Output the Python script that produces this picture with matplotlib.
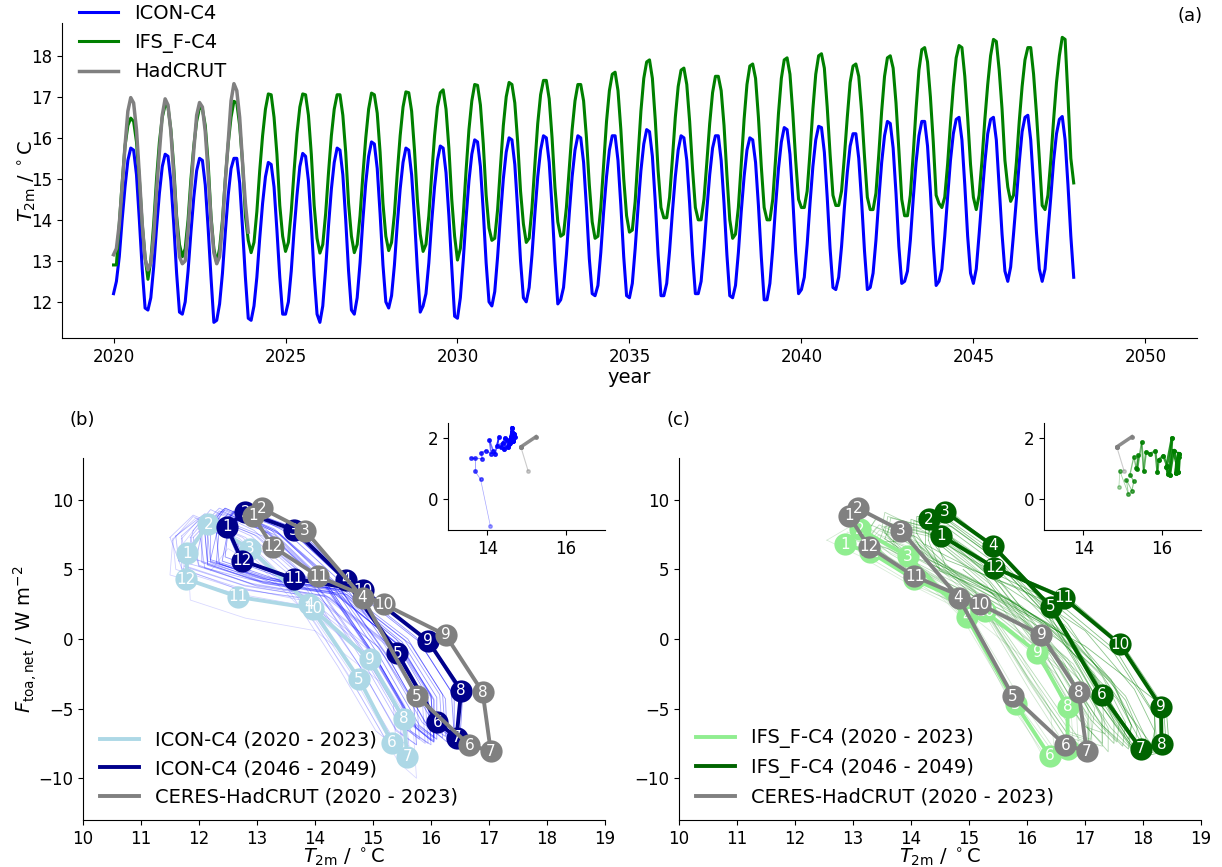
import numpy as np
import matplotlib
matplotlib.use("Agg")
import matplotlib.pyplot as plt

# ---------------- data ----------------
years = list(range(2020, 2048))
month_labels = [str(m) for m in range(1, 13)]

# monthly global-mean T2m (degC), one row per year, Jan..Dec
icon_t = [
    [12.2, 12.5, 13.1, 14.0, 14.8, 15.45, 15.75, 15.7, 15.1, 14.0, 12.8, 11.85],
    [11.8, 12.1, 12.85, 13.8, 14.65, 15.3, 15.6, 15.55, 14.95, 13.9, 12.7, 11.75],
    [11.7, 12.0, 12.75, 13.7, 14.55, 15.2, 15.5, 15.45, 14.85, 13.8, 12.6, 11.5],
    [11.55, 11.95, 12.7, 13.7, 14.6, 15.25, 15.5, 15.5, 14.9, 13.8, 12.6, 11.6],
    [11.55, 11.9, 12.6, 13.55, 14.4, 15.05, 15.4, 15.35, 14.8, 13.75, 12.6, 11.7],
    [11.7, 12.0, 12.75, 13.75, 14.6, 15.3, 15.62, 15.55, 14.95, 13.9, 12.65, 11.7],
    [11.5, 11.9, 12.8, 13.85, 14.75, 15.4, 15.75, 15.7, 15.1, 14.0, 12.75, 11.8],
    [11.7, 12.1, 12.95, 14.0, 14.9, 15.55, 15.9, 15.85, 15.25, 14.15, 12.9, 12.0],
    [11.85, 12.15, 12.9, 13.9, 14.75, 15.4, 15.75, 15.7, 15.1, 14.05, 12.8, 11.75],
    [11.9, 12.2, 12.95, 13.95, 14.8, 15.45, 15.8, 15.75, 15.15, 14.1, 12.85, 11.65],
    [11.6, 12.1, 13.0, 14.05, 14.95, 15.6, 15.95, 15.9, 15.3, 14.2, 12.95, 12.0],
    [11.9, 12.25, 13.1, 14.1, 15.0, 15.65, 16.0, 15.95, 15.35, 14.25, 13.0, 12.1],
    [12.0, 12.35, 13.15, 14.15, 15.05, 15.7, 16.05, 16.0, 15.4, 14.3, 13.0, 11.95],
    [12.05, 12.35, 13.15, 14.15, 15.05, 15.7, 16.05, 16.0, 15.4, 14.3, 13.05, 12.2],
    [12.15, 12.4, 13.2, 14.2, 15.05, 15.7, 16.05, 16.05, 15.45, 14.35, 13.1, 12.15],
    [12.1, 12.45, 13.3, 14.3, 15.2, 15.85, 16.2, 16.15, 15.55, 14.45, 13.15, 12.15],
    [12.15, 12.45, 13.25, 14.2, 15.05, 15.7, 16.05, 16.0, 15.45, 14.4, 13.15, 12.2],
    [12.2, 12.5, 13.3, 14.25, 15.1, 15.75, 16.05, 16.05, 15.45, 14.4, 13.15, 12.15],
    [12.1, 12.4, 13.2, 14.2, 15.05, 15.7, 16.0, 15.95, 15.4, 14.35, 13.1, 12.05],
    [12.05, 12.45, 13.3, 14.35, 15.25, 15.9, 16.25, 16.2, 15.6, 14.5, 13.2, 12.2],
    [12.3, 12.6, 13.4, 14.4, 15.3, 15.95, 16.28, 16.25, 15.65, 14.55, 13.3, 12.35],
    [12.3, 12.6, 13.35, 14.3, 15.15, 15.8, 16.1, 16.1, 15.5, 14.45, 13.25, 12.3],
    [12.35, 12.7, 13.5, 14.5, 15.4, 16.05, 16.4, 16.35, 15.75, 14.65, 13.35, 12.45],
    [12.5, 12.75, 13.5, 14.5, 15.4, 16.05, 16.4, 16.4, 15.8, 14.7, 13.4, 12.4],
    [12.5, 12.8, 13.6, 14.55, 15.45, 16.1, 16.45, 16.5, 15.95, 14.85, 13.6, 12.7],
    [12.45, 12.8, 13.65, 14.55, 15.4, 16.1, 16.45, 16.5, 15.95, 14.8, 13.65, 12.75],
    [12.5, 12.85, 13.65, 14.5, 15.4, 16.15, 16.5, 16.55, 15.95, 14.85, 13.7, 12.8],
    [12.5, 12.8, 13.7, 14.55, 15.45, 16.1, 16.45, 16.52, 15.95, 14.85, 13.6, 12.6],
]
ifs_t = [
    [12.9, 12.9, 13.9, 14.9, 15.8, 16.3, 16.48, 16.4, 15.9, 15.0, 13.9, 13.1],
    [12.55, 13.0, 13.9, 15.0, 15.9, 16.5, 16.8, 16.75, 16.2, 15.3, 14.1, 13.4],
    [13.1, 13.3, 14.0, 15.0, 15.8, 16.4, 16.74, 16.7, 16.3, 15.4, 14.1, 13.3],
    [12.95, 13.3, 14.0, 15.0, 15.85, 16.5, 16.89, 16.85, 16.3, 15.4, 14.1, 13.5],
    [13.2, 13.45, 14.2, 15.2, 16.05, 16.7, 17.07, 17.05, 16.5, 15.6, 14.35, 13.6],
    [13.23, 13.45, 14.2, 15.2, 16.1, 16.75, 17.07, 17.05, 16.55, 15.6, 14.35, 13.55],
    [13.19, 13.4, 14.15, 15.15, 16.05, 16.7, 17.05, 17.05, 16.55, 15.65, 14.4, 13.6],
    [13.2, 13.4, 14.1, 15.1, 16.0, 16.7, 17.09, 17.05, 16.6, 15.65, 14.4, 13.6],
    [13.25, 13.45, 14.15, 15.15, 16.05, 16.75, 17.12, 17.1, 16.65, 15.7, 14.5, 13.65],
    [13.23, 13.4, 14.1, 15.1, 16.05, 16.75, 17.1, 17.17, 16.7, 15.75, 14.5, 13.6],
    [13.02, 13.3, 14.1, 15.2, 16.2, 16.9, 17.3, 17.28, 16.8, 15.85, 14.6, 13.8],
    [13.5, 13.55, 14.25, 15.3, 16.3, 17.0, 17.35, 17.3, 16.85, 15.9, 14.7, 13.9],
    [13.45, 13.55, 14.3, 15.35, 16.35, 17.05, 17.4, 17.4, 16.95, 16.0, 14.8, 13.95],
    [13.6, 13.65, 14.3, 15.25, 16.2, 16.9, 17.3, 17.3, 16.9, 16.0, 14.85, 13.95],
    [13.55, 13.6, 14.3, 15.35, 16.4, 17.15, 17.55, 17.6, 17.15, 16.2, 15.0, 14.1],
    [13.7, 13.75, 14.45, 15.55, 16.65, 17.45, 17.85, 17.9, 17.45, 16.45, 15.2, 14.3],
    [14.05, 14.05, 14.55, 15.5, 16.5, 17.25, 17.65, 17.7, 17.3, 16.4, 15.25, 14.3],
    [14.0, 14.0, 14.5, 15.4, 16.35, 17.1, 17.5, 17.5, 17.15, 16.3, 15.1, 14.0],
    [13.55, 13.65, 14.3, 15.35, 16.45, 17.3, 17.75, 17.8, 17.45, 16.5, 15.3, 14.3],
    [14.0, 14.0, 14.5, 15.5, 16.6, 17.45, 17.9, 17.95, 17.55, 16.6, 15.45, 14.5],
    [14.3, 14.3, 14.7, 15.65, 16.7, 17.55, 18.0, 18.05, 17.7, 16.75, 15.6, 14.6],
    [14.35, 14.35, 14.7, 15.55, 16.5, 17.35, 17.75, 17.8, 17.5, 16.65, 15.55, 14.55],
    [14.25, 14.25, 14.65, 15.6, 16.65, 17.5, 17.95, 18.0, 17.7, 16.85, 15.7, 14.5],
    [14.1, 14.1, 14.6, 15.6, 16.7, 17.65, 18.15, 18.2, 17.85, 17.0, 15.9, 14.6],
    [14.4, 14.3, 14.55, 15.35, 16.35, 17.25, 17.95, 18.25, 18.2, 17.5, 16.5, 15.35],
    [14.55, 14.25, 14.6, 15.45, 16.45, 17.3, 18.0, 18.4, 18.35, 17.65, 16.7, 15.45],
    [14.8, 14.45, 14.6, 15.4, 16.4, 17.25, 17.9, 18.2, 18.2, 17.55, 16.6, 15.5],
    [14.35, 14.25, 14.6, 15.45, 16.45, 17.35, 18.0, 18.45, 18.4, 17.0, 15.5, 14.9],
]
hadcrut_t = [
    [13.15, 13.3, 13.9, 14.8, 15.8, 16.65, 16.98, 16.85, 16.2, 15.1, 13.9, 13.05],
    [12.78, 12.95, 13.6, 14.7, 15.65, 16.55, 16.95, 16.8, 16.15, 15.1, 13.95, 13.1],
    [12.93, 13.0, 13.75, 14.75, 15.7, 16.55, 16.86, 16.75, 16.15, 15.15, 14.0, 13.2],
    [12.93, 13.1, 13.85, 14.95, 15.9, 16.9, 17.32, 17.15, 16.5, 15.4, 14.4, 13.7],
]

# monthly net TOA flux (W m-2), one row per year, Jan..Dec
icon_f = [
    [4.9, 6.5, 5.0, 1.2, -4.2, -8.9, -10.0, -6.9, -3.0, 0.6, 1.5, 2.8],
    [6.5, 8.0, 6.6, 2.7, -2.6, -7.4, -8.4, -5.4, -1.5, 2.2, 3.0, 4.3],
    [6.7, 8.3, 6.8, 3.0, -2.4, -7.1, -8.2, -5.1, -1.2, 2.4, 3.3, 4.6],
    [7.2, 8.7, 7.2, 3.4, -1.9, -6.7, -7.7, -4.7, -0.7, 2.9, 3.7, 5.0],
    [7.1, 8.8, 7.1, 3.5, -2.0, -6.6, -7.8, -4.6, -0.8, 2.8, 3.8, 5.0],
    [7.2, 8.6, 7.3, 3.3, -1.9, -6.8, -7.7, -4.8, -0.7, 2.9, 3.6, 5.1],
    [7.3, 8.9, 7.3, 3.6, -1.8, -6.5, -7.6, -4.5, -0.6, 3.0, 3.9, 5.2],
    [7.4, 8.9, 7.5, 3.6, -1.7, -6.4, -7.5, -4.4, -0.5, 3.1, 4.0, 5.2],
    [7.3, 8.8, 7.4, 3.6, -1.8, -6.6, -7.6, -4.6, -0.6, 3.0, 3.8, 5.2],
    [7.8, 9.3, 7.8, 4.0, -1.4, -6.1, -7.2, -4.1, -0.1, 3.4, 4.3, 5.6],
    [7.4, 9.0, 7.4, 3.7, -1.7, -6.5, -7.5, -4.4, -0.5, 3.1, 3.9, 5.3],
    [7.3, 8.8, 7.4, 3.5, -1.8, -6.6, -7.6, -4.5, -0.6, 3.0, 3.8, 5.1],
    [7.9, 9.4, 7.9, 4.1, -1.3, -6.0, -7.0, -4.0, 0.0, 3.6, 4.4, 5.7],
    [7.7, 9.2, 7.7, 3.9, -1.4, -6.2, -7.3, -4.2, -0.3, 3.4, 4.2, 5.5],
    [7.5, 9.0, 7.6, 3.7, -1.6, -6.3, -7.4, -4.3, -0.4, 3.2, 4.0, 5.4],
    [7.8, 9.4, 7.8, 4.1, -1.3, -6.0, -7.1, -4.0, -0.1, 3.5, 4.4, 5.6],
    [7.7, 9.3, 7.8, 4.0, -1.3, -6.1, -7.1, -4.1, -0.2, 3.5, 4.3, 5.6],
    [7.5, 9.0, 7.5, 3.7, -1.7, -6.4, -7.4, -4.4, -0.5, 3.2, 4.0, 5.3],
    [7.6, 9.2, 7.6, 3.8, -1.5, -6.2, -7.3, -4.2, -0.3, 3.3, 4.1, 5.5],
    [7.9, 9.4, 7.9, 4.1, -1.2, -6.0, -7.0, -4.0, 0.0, 3.5, 4.4, 5.7],
    [7.5, 9.1, 7.5, 3.8, -1.6, -6.3, -7.4, -4.3, -0.4, 3.2, 4.0, 5.4],
    [7.6, 9.2, 7.7, 3.9, -1.5, -6.2, -7.2, -4.2, -0.2, 3.4, 4.2, 5.5],
    [8.0, 9.5, 8.1, 4.2, -1.1, -5.8, -6.9, -3.8, 0.1, 3.7, 4.5, 5.9],
    [7.7, 9.3, 7.7, 3.9, -1.4, -6.1, -7.2, -4.1, -0.2, 3.4, 4.2, 5.6],
    [7.8, 8.9, 7.7, 4.1, -1.1, -6.0, -7.2, -3.9, -0.2, 3.4, 4.3, 5.6],
    [8.1, 9.2, 7.9, 4.3, -1.0, -5.9, -7.0, -3.6, -0.1, 3.6, 4.4, 5.7],
    [8.0, 9.0, 7.8, 4.2, -1.0, -6.1, -7.1, -3.8, -0.2, 3.4, 4.2, 5.6],
    [8.3, 9.3, 7.9, 4.4, -1.0, -5.9, -7.0, -3.5, -0.1, 3.6, 4.4, 5.7],
]
ifs_f = [
    [6.5, 7.7, 5.7, 1.4, -4.9, -8.6, -8.2, -5.1, -1.2, 1.8, 4.1, 6.0],
    [7.1, 8.2, 6.2, 1.9, -4.4, -8.1, -7.7, -4.6, -0.7, 2.3, 4.6, 6.5],
    [6.3, 7.4, 5.5, 1.1, -5.2, -8.9, -8.4, -5.4, -1.5, 1.5, 3.8, 5.8],
    [6.8, 7.9, 5.9, 1.6, -4.7, -8.4, -8.0, -4.9, -1.0, 2.0, 4.3, 6.2],
    [6.4, 7.5, 6.2, 2.3, -3.7, -7.9, -8.4, -6.1, -2.5, 0.8, 3.4, 5.4],
    [6.7, 7.8, 6.5, 2.6, -3.4, -7.6, -8.1, -5.8, -2.2, 1.1, 3.7, 5.7],
    [6.9, 8.0, 6.7, 2.8, -3.2, -7.3, -7.9, -5.6, -2.0, 1.4, 3.9, 5.9],
    [7.5, 8.6, 7.3, 3.4, -2.6, -6.8, -7.3, -5.0, -1.4, 1.9, 4.5, 6.5],
    [7.1, 8.2, 6.9, 3.0, -3.0, -7.1, -7.6, -5.4, -1.8, 1.6, 4.1, 6.1],
    [7.5, 8.7, 7.3, 3.5, -2.5, -6.7, -7.2, -5.0, -1.4, 2.0, 4.6, 6.5],
    [7.1, 8.2, 6.9, 3.0, -3.0, -7.2, -7.7, -5.4, -1.8, 1.5, 4.1, 6.1],
    [8.0, 9.1, 7.7, 3.9, -2.1, -6.3, -6.8, -4.6, -0.9, 2.4, 5.0, 7.0],
    [7.0, 8.1, 7.4, 4.0, -1.3, -6.4, -8.1, -6.4, -3.1, 0.7, 3.5, 5.5],
    [7.5, 8.7, 8.0, 4.6, -0.8, -5.8, -7.5, -5.8, -2.5, 1.2, 4.1, 6.1],
    [7.6, 8.8, 8.0, 4.7, -0.7, -5.7, -7.4, -5.7, -2.4, 1.3, 4.2, 6.2],
    [7.0, 8.1, 7.4, 4.0, -1.4, -6.4, -8.1, -6.4, -3.1, 0.6, 3.5, 5.5],
    [7.4, 8.5, 7.8, 4.4, -1.0, -6.0, -7.7, -6.0, -2.7, 1.0, 3.9, 5.9],
    [7.5, 8.6, 7.9, 4.5, -0.8, -5.8, -7.5, -5.9, -2.6, 1.2, 4.0, 6.0],
    [7.2, 8.3, 7.6, 4.2, -1.2, -6.2, -7.9, -6.2, -2.9, 0.8, 3.7, 5.7],
    [6.8, 8.0, 7.9, 5.0, 0.3, -5.5, -8.3, -7.3, -4.3, -0.2, 2.9, 5.0],
    [7.1, 8.2, 8.1, 5.2, 0.5, -5.3, -8.1, -7.1, -4.1, 0.0, 3.1, 5.2],
    [8.0, 9.2, 9.1, 6.2, 1.5, -4.4, -7.2, -6.2, -3.2, 1.0, 4.0, 6.1],
    [6.8, 8.0, 7.9, 5.0, 0.3, -5.6, -8.4, -7.4, -4.4, -0.3, 2.8, 4.9],
    [7.6, 8.8, 8.7, 5.8, 1.1, -4.8, -7.6, -6.6, -3.6, 0.6, 3.6, 5.7],
    [6.8, 8.0, 8.5, 6.1, 1.7, -4.6, -8.5, -8.2, -5.5, -1.0, 2.4, 4.5],
    [7.5, 8.6, 9.2, 6.7, 2.3, -4.0, -7.9, -7.5, -4.8, -0.4, 3.0, 5.2],
    [6.9, 8.1, 8.6, 6.1, 1.7, -4.6, -8.4, -8.1, -5.4, -0.9, 2.4, 4.6],
    [7.4, 8.5, 9.1, 6.6, 2.2, -4.1, -8.0, -7.6, -5.0, -0.5, 2.9, 5.0],
]

# mean seasonal cycles (Jan..Dec) shown with numbered markers
icon_early_t = [11.80, 12.16, 12.88, 13.90, 14.76, 15.33, 15.59, 15.53, 14.94, 13.96, 12.68, 11.78]
icon_early_f = [6.16, 8.26, 6.48, 2.50, -2.88, -7.45, -8.45, -5.74, -1.45, 2.19, 3.02, 4.31]
icon_late_t = [12.48, 12.80, 13.64, 14.53, 15.42, 16.11, 16.44, 16.52, 15.95, 14.83, 13.64, 12.74]
icon_late_f = [8.07, 9.10, 7.83, 4.26, -1.02, -5.98, -7.09, -3.71, -0.14, 3.50, 4.33, 5.64]
ifs_early_t = [12.86, 13.12, 13.95, 14.96, 15.81, 16.39, 16.70, 16.70, 16.18, 15.27, 14.05, 13.30]
ifs_early_f = [6.79, 7.90, 5.93, 1.60, -4.70, -8.40, -7.93, -4.88, -0.98, 2.00, 4.30, 6.24]
ifs_late_t = [14.52, 14.31, 14.59, 15.41, 16.41, 17.29, 17.96, 18.32, 18.31, 17.60, 16.63, 15.44]
ifs_late_f = [7.43, 8.62, 9.14, 6.71, 2.31, -4.00, -7.88, -7.57, -4.88, -0.38, 2.98, 5.12]
obs_t = [12.93, 13.08, 13.83, 14.82, 15.76, 16.66, 17.03, 16.89, 16.25, 15.19, 14.06, 13.27]
obs_f = [8.86, 9.40, 7.79, 2.98, -4.12, -7.62, -8.05, -3.81, 0.29, 2.50, 4.50, 6.64]

# annual means for the insets
icon_ann_t = [14.08, 13.83, 13.69, 13.69, 13.58, 13.87, 13.85, 13.96, 14.10, 14.05,
              14.15, 14.20, 14.30, 14.25, 14.40, 14.35, 14.45, 14.50, 14.42, 14.55,
              14.60, 14.52, 14.58, 14.62, 14.60, 14.64, 14.65, 14.68, 14.66, 14.70]
icon_ann_f = [-0.87, 0.66, 0.92, 1.36, 1.36, 1.33, 1.52, 1.60, 1.50, 1.95,
              1.60, 1.50, 2.05, 1.75, 1.85, 1.70, 2.00, 1.95, 1.65, 1.80,
              2.05, 1.70, 1.85, 2.20, 1.90, 2.35, 1.95, 2.15, 1.90, 2.05]
ifs_ann_t = [14.91, 14.93, 15.15, 15.10, 15.24, 15.29, 15.19, 15.29, 15.35, 15.40,
             15.38, 15.49, 15.54, 15.60, 15.69, 15.84, 15.89, 15.92, 16.04, 16.14,
             16.16, 16.12, 16.26, 16.20, 16.30, 16.38, 16.36, 16.43, 16.42, 16.44]
ifs_ann_f = [0.42, 0.94, 0.18, 0.64, 0.29, 0.59, 0.81, 1.40, 1.02, 1.44,
             1.00, 1.87, 0.92, 1.55, 1.50, 1.57, 0.90, 1.30, 1.43, 1.10,
             0.83, 1.05, 2.00, 0.80, 1.60, 1.20, 0.85, 1.50, 0.90, 1.40]
obs_ann_t = [15.04, 14.86, 14.87, 15.24]
obs_ann_f = [0.94, 1.70, 1.73, 2.05]

# ---------------- figure ----------------
plt.rcParams['font.family'] = ['DejaVu Sans']
fig = plt.figure(figsize=(12.22, 8.67), dpi=100)

C_ICON, C_IFS, C_OBS = 'blue', 'green', 'grey'
C_ICON_E, C_ICON_L = 'lightblue', 'darkblue'
C_IFS_E, C_IFS_L = 'lightgreen', 'darkgreen'

def clean(ax, fs=12):
    ax.spines['top'].set_visible(False)
    ax.spines['right'].set_visible(False)
    ax.tick_params(labelsize=fs)

# ----- panel (a) -----
axa = fig.add_axes([0.0507, 0.6102, 0.9288, 0.3633])
icon_flat = np.array(icon_t).ravel()
ifs_flat = np.array(ifs_t).ravel()
had_flat = np.array(hadcrut_t).ravel()
t_model = years[0] + np.arange(icon_flat.size) / 12.0
t_obs = years[0] + np.arange(had_flat.size) / 12.0
axa.plot(t_model, icon_flat, color=C_ICON, lw=2.2, label='ICON-C4')
axa.plot(t_model, ifs_flat, color=C_IFS, lw=2.2, label='IFS_F-C4')
axa.plot(t_obs, had_flat, color=C_OBS, lw=2.5, label='HadCRUT')
axa.set_xlim(2018.5, 2051.5)
axa.set_ylim(11.12, 18.8)
axa.set_xticks([2020, 2025, 2030, 2035, 2040, 2045, 2050])
axa.set_yticks([12, 13, 14, 15, 16, 17, 18])
axa.set_xlabel('year', fontsize=14, labelpad=2)
axa.set_ylabel(r'$T_{\mathrm{2m}}$ / $^\circ$C', fontsize=14)
axa.yaxis.set_label_coords(-0.02, 0.5)
clean(axa)
axa.legend(loc='upper left', bbox_to_anchor=(0.0, 1.116), frameon=False, fontsize=14)
fig.text(0.974, 0.981, '(a)', fontsize=13, ha='center', va='center')

# ----- loop panels -----
def loop_panel(rect, t_years, f_years, t_e, f_e, t_l, f_l,
               c_thin, c_e, c_l, lab_e, lab_l, ylabel):
    ax = fig.add_axes(rect)
    ny = len(t_years)
    tt = np.array(t_years)
    ff = np.array(f_years)
    for k in range(ny):
        xs = list(tt[k])
        ys = list(ff[k])
        if k + 1 < ny:
            xs.append(tt[k + 1][0])
            ys.append(ff[k + 1][0])
        ax.plot(xs, ys, color=c_thin, lw=0.6, alpha=0.15 + 0.35 * k / (ny - 1), zorder=1)
    z = 3
    for xv, yv, col, lab in [(t_e, f_e, c_e, lab_e), (t_l, f_l, c_l, lab_l),
                             (obs_t, obs_f, C_OBS, 'CERES-HadCRUT (2020 - 2023)')]:
        xs = list(xv) + [xv[0]]
        ys = list(yv) + [yv[0]]
        ax.plot(xs, ys, color=col, lw=2.8, zorder=z, label=lab)
        ax.plot(xv, yv, 'o', color=col, ms=16, zorder=z, mec='none')
        for xi, yi, s in zip(xv, yv, month_labels):
            ax.text(xi, yi, s, color='white', fontsize=11, ha='center', va='center',
                    zorder=z + 0.5)
        z += 1
    ax.set_xlim(10, 19)
    ax.set_ylim(-13, 13)
    ax.set_xticks(range(10, 20))
    ax.set_yticks([-10, -5, 0, 5, 10])
    ax.set_xlabel(r'$T_{\mathrm{2m}}$ / $^\circ$C', fontsize=14, labelpad=-1)
    if ylabel:
        ax.set_ylabel(r'$F_{\mathrm{toa,net}}$ / W m$^{-2}$', fontsize=14)
        ax.yaxis.set_label_coords(-0.085, 0.5)
    clean(ax)
    ax.legend(loc='lower left', bbox_to_anchor=(0.0, -0.012), frameon=False, fontsize=14,
              handlelength=2.0)
    return ax

axb = loop_panel([0.0679, 0.0542, 0.4272, 0.4175], icon_t, icon_f,
                 icon_early_t, icon_early_f, icon_late_t, icon_late_f,
                 C_ICON, C_ICON_E, C_ICON_L,
                 'ICON-C4 (2020 - 2023)', 'ICON-C4 (2046 - 2049)', True)
axc = loop_panel([0.5556, 0.0542, 0.4272, 0.4175], ifs_t, ifs_f,
                 ifs_early_t, ifs_early_f, ifs_late_t, ifs_late_f,
                 C_IFS, C_IFS_E, C_IFS_L,
                 'IFS_F-C4 (2020 - 2023)', 'IFS_F-C4 (2046 - 2049)', False)
fig.text(0.067, 0.515, '(b)', fontsize=13, ha='center', va='center')
fig.text(0.555, 0.515, '(c)', fontsize=13, ha='center', va='center')

# ----- insets -----
def inset(rect, tx, fx, col):
    ax = fig.add_axes(rect)
    n = len(tx)
    for k in range(n - 1):
        w = k / (n - 2)
        ax.plot(tx[k:k + 2], fx[k:k + 2], '-o', color=col, lw=0.5 + 2.0 * w,
                ms=2.5, alpha=0.35 + 0.65 * w)
    m = len(obs_ann_t)
    for k in range(m - 1):
        w = k / (m - 2)
        ax.plot(obs_ann_t[k:k + 2], obs_ann_f[k:k + 2], '-o', color=C_OBS,
                lw=0.8 + 1.7 * w, ms=2.5, alpha=0.4 + 0.5 * w)
    ax.set_xlim(13, 17)
    ax.set_ylim(-1, 2.5)
    ax.set_xticks([14, 16])
    ax.set_yticks([0, 2])
    clean(ax)
    return ax

inset([0.3666, 0.3887, 0.1285, 0.1234], icon_ann_t, icon_ann_f, C_ICON)
inset([0.8543, 0.3887, 0.1285, 0.1234], ifs_ann_t, ifs_ann_f, C_IFS)

fig.savefig('out.png', dpi=100)
